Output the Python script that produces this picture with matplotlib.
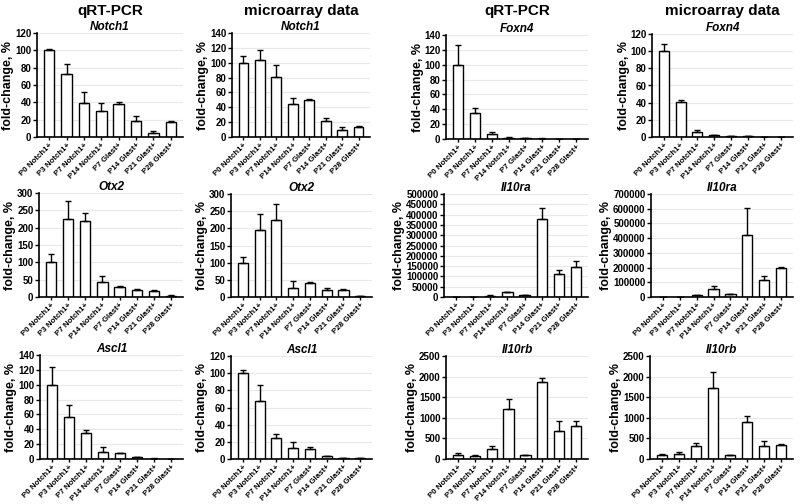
import numpy as np
import matplotlib
matplotlib.use('Agg')
import matplotlib.pyplot as plt

plt.rcParams['font.family'] = ['Liberation Sans', 'DejaVu Sans']
plt.rcParams['font.weight'] = 'bold'

samples = ['P0 Notch1+', 'P3 Notch1+', 'P7 Notch1+', 'P14 Notch1+',
           'P7 Glast+', 'P14 Glast+', 'P21 Glast+', 'P28 Glast+']

# qRT-PCR
notch1_q = [100, 73, 39.5, 30.5, 38, 19, 4.6, 17]
notch1_q_err = [1, 11, 12, 8.5, 2, 5, 2.4, 2]
foxn4_q = [100, 34.5, 7.2, 1.8, 1.2, 0.5, 0.3, 0.1]
foxn4_q_err = [27, 7, 2.2, 0.8, 0.3, 0.2, 0.1, 0]
otx2_q = [100, 226, 219, 42, 29, 19.5, 17.5, 4]
otx2_q_err = [23, 51, 22, 20, 2.5, 3, 2, 0.5]
il10ra_q = [500, 700, 6000, 22000, 9000, 379000, 113000, 146000]
il10ra_q_err = [300, 300, 2000, 4000, 1500, 53000, 16000, 30000]
ascl1_q = [100, 56, 34.5, 9, 8, 3, 0.6, 0.5]
ascl1_q_err = [24, 17, 5, 7, 0.5, 0.3, 0.1, 0.1]
il10rb_q = [96, 80, 250, 1214, 96, 1857, 683, 804]
il10rb_q_err = [40, 12, 62, 233, 5, 105, 250, 120]

# microarray
notch1_m = [100, 104, 81, 45, 49.6, 22, 10, 14]
notch1_m_err = [9, 13, 15.5, 7, 1, 3, 3.5, 1]
foxn4_m = [100, 41, 6.2, 2, 1, 1, 0.3, 0.3]
foxn4_m_err = [8.5, 2.4, 1.5, 0.6, 0.2, 0.2, 0.1, 0.1]
otx2_m = [100, 194.5, 225.5, 27, 40.5, 20, 20, 2]
otx2_m_err = [15.5, 46.5, 44.5, 19.5, 4, 6, 4, 0.3]
il10ra_m = [1000, 1500, 11000, 53000, 20000, 420000, 118000, 200000]
il10ra_m_err = [500, 500, 2000, 22000, 3000, 183000, 25000, 2000]
ascl1_m = [100, 68, 25, 13, 12, 3, 1, 1.5]
ascl1_m_err = [4, 18, 4, 7, 2, 0.3, 0.1, 0.2]
il10rb_m = [96, 128, 313, 1728, 96, 900, 313, 330]
il10rb_m_err = [25, 30, 70, 395, 8, 137, 120, 30]

panels = [
    # (gene, values, errors, ymax, ystep, left, bottom, right, top)
    ('Notch1', notch1_q, notch1_q_err, 120, 20, 37, 137, 183, 33),
    ('Notch1', notch1_m, notch1_m_err, 140, 20, 232, 137, 370, 33),
    ('Foxn4', foxn4_q, foxn4_q_err, 140, 20, 446, 139, 588, 35),
    ('Foxn4', foxn4_m, foxn4_m_err, 120, 20, 652, 137, 793, 34),
    ('Otx2', otx2_q, otx2_q_err, 300, 50, 39, 297, 183, 193),
    ('Otx2', otx2_m, otx2_m_err, 300, 50, 231, 297, 372, 194),
    ('Il10ra', il10ra_q, il10ra_q_err, 500000, 50000, 444, 297, 588, 194),
    ('Il10ra', il10ra_m, il10ra_m_err, 700000, 100000, 651, 297, 793, 194),
    ('Ascl1', ascl1_q, ascl1_q_err, 140, 20, 40, 459, 183, 355),
    ('Ascl1', ascl1_m, ascl1_m_err, 120, 20, 231, 459, 372, 356),
    ('Il10rb', il10rb_q, il10rb_q_err, 2500, 500, 446, 459, 588, 356),
    ('Il10rb', il10rb_m, il10rb_m_err, 2500, 500, 650, 459, 793, 356),
]

W, H = 800, 504
fig = plt.figure(figsize=(8, 5.04), dpi=100)
x = np.arange(len(samples))

for gene, vals, errs, ymax, ystep, l, b, r, t in panels:
    ax = fig.add_axes([l / W, 1 - b / H, (r - l) / W, (b - t) / H])
    ax.bar(x, vals, width=0.6, color='white', edgecolor='black', linewidth=1.0, zorder=2)
    ax.errorbar(x, vals, yerr=[np.zeros(len(vals)), errs], fmt='none',
                ecolor='black', elinewidth=1.0, capsize=2, capthick=1.0, zorder=3)
    ax.set_xlim(-0.7, 7.7)
    ax.set_ylim(0, ymax)
    ax.set_yticks(np.arange(0, ymax + ystep / 2, ystep))
    ax.yaxis.grid(True, color='#e8e8e8', linewidth=0.8, zorder=0)
    ax.set_axisbelow(True)
    for s in ['top', 'right']:
        ax.spines[s].set_visible(False)
    ax.spines['left'].set_linewidth(1.2)
    ax.spines['bottom'].set_linewidth(1.2)
    ax.set_xticks(x)
    ax.set_xticklabels(samples, rotation=45, ha='right', rotation_mode='anchor',
                       fontsize=5.7, fontweight='bold')
    ax.tick_params(axis='y', labelsize=7, length=3, width=1, pad=1)
    ax.tick_params(axis='x', length=2.5, width=1, pad=1)
    for lab in ax.get_yticklabels():
        lab.set_fontweight('bold')
    ax.set_ylabel('fold-change, %', fontsize=9, fontweight='bold', labelpad=0.5)
    ax.set_title(gene, fontsize=8.5, fontweight='bold', style='italic', pad=1)

fig.text(110 / W, 1 - 11 / H, 'qRT-PCR', ha='center', va='center', fontsize=11, fontweight='bold')
fig.text(301 / W, 1 - 11 / H, 'microarray data', ha='center', va='center', fontsize=11, fontweight='bold')
fig.text(517 / W, 1 - 11 / H, 'qRT-PCR', ha='center', va='center', fontsize=11, fontweight='bold')
fig.text(722 / W, 1 - 11 / H, 'microarray data', ha='center', va='center', fontsize=11, fontweight='bold')

fig.savefig('out.png', dpi=100)
